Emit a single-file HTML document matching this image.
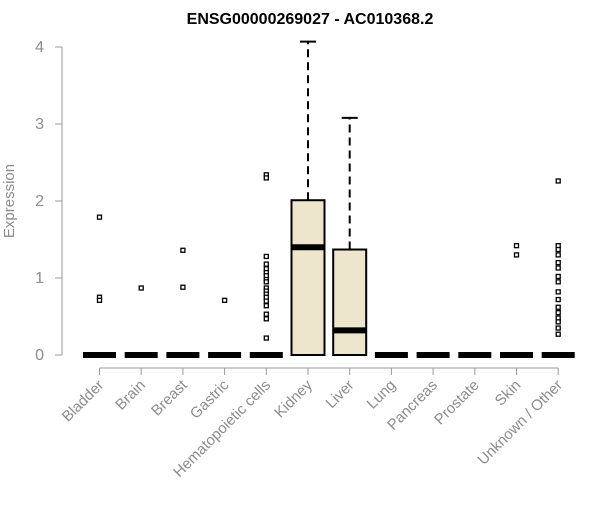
<!DOCTYPE html>
<html><head><meta charset="utf-8"><style>
body{margin:0;background:#fff}
svg{font-family:"Liberation Sans",Arial,sans-serif}
</style></head><body>
<svg id="chart" width="600" height="500">
<text x="310" y="24" text-anchor="middle" font-weight="bold" font-size="16">ENSG00000269027 - AC010368.2</text>
<text transform="translate(14,201) rotate(-90)" text-anchor="middle" font-size="15" fill="#8c8c8c">Expression</text>
<g id="axes"></g><g id="marks"></g>
</svg>
<script>
const categories=["Bladder","Brain","Breast","Gastric","Hematopoietic cells","Kidney","Liver","Lung","Pancreas","Prostate","Skin","Unknown / Other"];
const q1=[0,0,0,0,0,0,0,0,0,0,0,0];
const medians=[0,0,0,0,0,1.4,0.32,0,0,0,0,0];
const q3=[0,0,0,0,0,2.01,1.37,0,0,0,0,0];
const whiskerHi=[0,0,0,0,0,4.07,3.08,0,0,0,0,0];
const outliers=[
[1.79,0.75,0.71],
[0.87],
[1.36,0.88],
[0.71],
[2.34,2.3,1.28,1.18,1.12,1.07,1.03,0.98,0.95,0.87,0.83,0.79,0.75,0.7,0.64,0.53,0.47,0.22],
[],[],[],[],[],
[1.42,1.3],
[2.26,1.42,1.37,1.3,1.2,1.13,1.02,0.95,0.82,0.72,0.62,0.55,0.48,0.43,0.35,0.27]
];
const yTicks=[0,1,2,3,4];
const NS="http://www.w3.org/2000/svg";
const xS=i=>99.5+41.7*i, yS=v=>355-77*v;
function mk(tag,attrs,parent){const e=document.createElementNS(NS,tag);for(const k in attrs)e.setAttribute(k,attrs[k]);parent.appendChild(e);return e;}
const ax=document.getElementById('axes'), mg=document.getElementById('marks');
let yl=mk('line',{x1:62,x2:62,y1:yS(0),y2:yS(4),stroke:'#999'},ax);


yTicks.forEach(t=>{
 let l=mk('line',{x1:55,x2:62,y1:yS(t),y2:yS(t),stroke:'#999'},ax);
 
 
 let tx=mk('text',{x:44,y:yS(t)+5,'text-anchor':'end','font-size':16,fill:'#8c8c8c'},ax);tx.textContent=t;
 
 
});
let xl=mk('line',{x1:xS(0),x2:xS(11),y1:368,y2:368,stroke:'#999'},ax);


categories.forEach((c,i)=>{
 const x=xS(i);
 let l=mk('line',{x1:x,x2:x,y1:368,y2:375,stroke:'#999'},ax);
 
 
 let tx=mk('text',{transform:`translate(${x+5},386) rotate(-45)`,'text-anchor':'end','font-size':15,fill:'#8c8c8c'},ax);tx.textContent=c;
 
 
 const w=16.5;
 if(whiskerHi[i]>q3[i]){
  let wl=mk('line',{x1:x,x2:x,y1:yS(q3[i]),y2:yS(whiskerHi[i]),stroke:'#000','stroke-width':2,'stroke-dasharray':'8,5'},mg);
  
  
  let cap=mk('line',{x1:x-8,x2:x+8,y1:yS(whiskerHi[i]),y2:yS(whiskerHi[i]),stroke:'#000','stroke-width':2},mg);
  
  
 }
 if(q3[i]>q1[i]){
  let b=mk('rect',{x:x-w,y:yS(q3[i]),width:2*w,height:yS(q1[i])-yS(q3[i]),fill:'#ede6cc',stroke:'#000','stroke-width':2},mg);
  
  
 }
 let m=mk('line',{x1:x-w,x2:x+w,y1:yS(medians[i]),y2:yS(medians[i]),stroke:'#000','stroke-width':6},mg);
 
 
 outliers[i].forEach(v=>{
  let p=mk('rect',{x:x-2,y:yS(v)-2,width:4,height:4,fill:'#fff',stroke:'#000','stroke-width':1.3},mg);
  
  
 });
});
</script>
</body></html>
